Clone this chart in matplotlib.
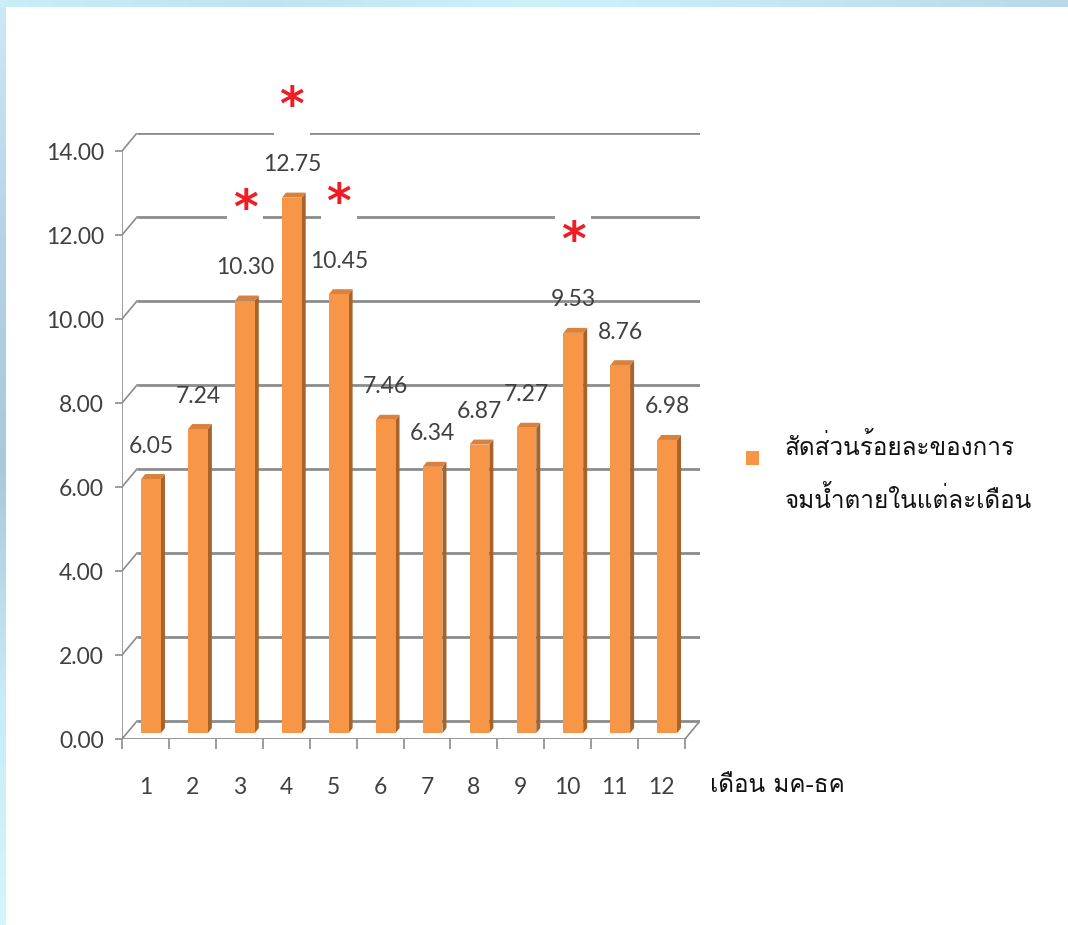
import numpy as np
import matplotlib
matplotlib.use("Agg")
import matplotlib.pyplot as plt
from matplotlib import font_manager as fm
from matplotlib.ft2font import FT2Font
from matplotlib.patches import Polygon, Rectangle

# ---------------- data ----------------
months = ["1", "2", "3", "4", "5", "6", "7", "8", "9", "10", "11", "12"]
ratios = [6.05, 7.24, 10.30, 12.75, 10.45, 7.46, 6.34, 6.87, 7.27, 9.53, 8.76, 6.98]
starred = ["3", "4", "5", "10"]
y_ticks = [0, 2, 4, 6, 8, 10, 12, 14]
y_tick_labels = ["0.00", "2.00", "4.00", "6.00", "8.00", "10.00", "12.00", "14.00"]
legend_lines = ["สัดส่วนร้อยละของการ", "จมน้ำตายในแต่ละเดือน"]
x_title = "เดือน มค-ธค"


def find_font(codepoints):
    seen = set()
    for f in fm.fontManager.ttflist:
        if f.fname in seen:
            continue
        seen.add(f.fname)
        try:
            cm = FT2Font(f.fname).get_charmap()
        except Exception:
            continue
        if all(c in cm for c in codepoints):
            return f.name
    return None


thai_font = find_font([0x0E2A, 0x0E14, 0x0E19, 0x0E49])
thai_family = [thai_font, "DejaVu Sans"] if thai_font else ["DejaVu Sans"]
num_family = ["Lato", "DejaVu Sans"]
num_size = 16.5

W, H = 1068, 925
fig = plt.figure(figsize=(W / 100, H / 100), dpi=100)
fig.patch.set_facecolor("white")

# light-blue textured border (top and left)
bg_top = fig.add_axes([0, 1 - 7 / H, 1, 7 / H])
grad = np.linspace(0, 1, 200)[None, :]
bg_top.imshow(grad, aspect="auto", cmap=matplotlib.colors.LinearSegmentedColormap.from_list(
    "t", ["#c9eef8", "#bfe3f2", "#cdf3f9", "#c4e6f3", "#b9d9ea"]), extent=[0, 1, 0, 1])
bg_top.axis("off")
bg_left = fig.add_axes([0, 0, 6 / W, 1 - 7 / H])
gradv = np.linspace(0, 1, 200)[:, None]
bg_left.imshow(gradv, aspect="auto", cmap=matplotlib.colors.LinearSegmentedColormap.from_list(
    "l", ["#cde8f5", "#b4d4e6", "#a8c8dc", "#c6ecf6", "#d2f6fb"]), extent=[0, 1, 0, 1])
bg_left.axis("off")

# ---------------- main axes ----------------
x0px, x1px = 122, 700
y0px, y1px = 739, 133
ax = fig.add_axes([x0px / W, 1 - y0px / H, (x1px - x0px) / W, (y0px - y1px) / H])
n = len(months)
ppx = (x1px - x0px - 15) / n
DX = 15 / ppx
ppy = (y0px - y1px - 18) / 14.0
DY = 18 / ppy
ax.set_xlim(0.5, n + 0.5 + DX)
ax.set_ylim(0, 14 + DY)
for s in ax.spines.values():
    s.set_visible(False)
ax.set_facecolor("none")

grid_c = "#8c8c8c"
lw = 2.0
for v in y_ticks:
    ax.plot([0.5 + DX, n + 0.5 + DX], [v + DY, v + DY], color=grid_c, lw=lw, zorder=1,
            solid_capstyle="butt")
    ax.plot([0.5, 0.5 + DX], [v, v + DY], color=grid_c, lw=1.2, zorder=1)
ax.plot([0.5, 0.5], [0, 14], color=grid_c, lw=1.2, zorder=1)
ax.plot([0.5, n + 0.5], [0, 0], color=grid_c, lw=2.0, zorder=1)
ax.plot([n + 0.5, n + 0.5 + DX], [0, DY], color=grid_c, lw=1.2, zorder=1)

ax.set_yticks(y_ticks)
ax.set_yticklabels(y_tick_labels, family=num_family, fontsize=num_size, color="#404040")
ax.tick_params(axis="y", length=5, width=1.2, color=grid_c, pad=8)
ax.set_xticks(np.arange(1, n + 1))
ax.set_xticklabels(months, family=num_family, fontsize=num_size, color="#404040")
ax.set_xticks(np.arange(0.5, n + 1.0, 1.0), minor=True)
ax.tick_params(axis="x", which="major", length=0, pad=27)
ax.tick_params(axis="x", which="minor", length=7, width=1.2, color=grid_c)

# ---------------- 3D bars ----------------
front_c = "#f79646"
side_c = "#a8632a"
top_c = "#d9823d"
base = 0.14
fl, fr = -0.09, 0.33
sd_x = 4 / ppx
sd_y = 5 / ppy
for i, (m, v) in enumerate(zip(months, ratios)):
    xc = i + 1
    xa, xb = xc + fl, xc + fr
    yb, yt = base, base + v
    ax.add_patch(Polygon([[xb, yb], [xb + sd_x, yb + sd_y], [xb + sd_x, yt + sd_y], [xb, yt]],
                         closed=True, fc=side_c, ec="none", zorder=3))
    ax.add_patch(Polygon([[xa, yt], [xb, yt], [xb + sd_x, yt + sd_y], [xa + sd_x, yt + sd_y]],
                         closed=True, fc=top_c, ec="none", zorder=3))
    ax.add_patch(Rectangle((xa, yb), xb - xa, v, fc=front_c, ec="none", zorder=4))
    xm = (xa + xb) / 2
    ax.annotate(f"{v:.2f}", (xm, yt), xytext=(0, 33 * 0.72), textcoords="offset points",
                ha="center", va="center", family=num_family, fontsize=num_size,
                color="#404040", zorder=5, annotation_clip=False)
    if m in starred:
        ax.annotate("*", (xm, yt), xytext=(0, 90 * 0.72), textcoords="offset points",
                    ha="center", va="center", family=["DejaVu Sans"], fontsize=34,
                    fontweight="bold", color="#ee1c25", zorder=6, annotation_clip=False,
                    bbox=dict(boxstyle="square,pad=0.12", fc="white", ec="none"))

# ---------------- legend & axis title ----------------
fig.patches.append(Rectangle((746 / W, 1 - 465 / H), 13 / W, 14 / H, transform=fig.transFigure,
                             fc=front_c, ec="none"))
fig.text(785 / W, 1 - 447 / H, legend_lines[0], family=thai_family, fontsize=17.5,
         color="#111111", va="center", ha="left")
fig.text(785 / W, 1 - 500 / H, legend_lines[1], family=thai_family, fontsize=17.5,
         color="#111111", va="center", ha="left")
fig.text(710 / W, 1 - 785 / H, x_title, family=thai_family, fontsize=17.5,
         color="#111111", va="center", ha="left")

fig.savefig("out.png", dpi=100, facecolor="white")
